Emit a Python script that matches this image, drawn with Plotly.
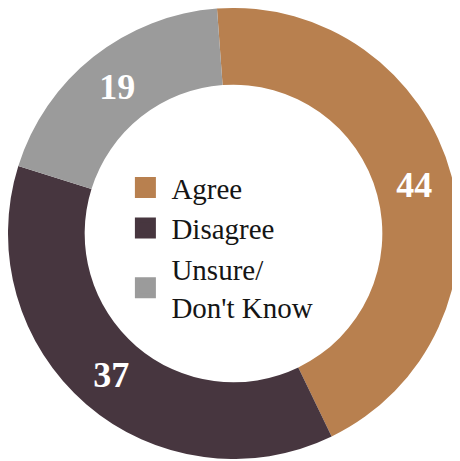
import plotly.graph_objects as go

categories = ["Agree", "Disagree", "Unsure/<br>Don't Know"]
values = [44, 37, 19]
colors = ["#B8804F", "#47363F", "#9B9B9B"]
label_text = ["44", "37", "19"]

fig = go.Figure(go.Pie(
    labels=categories,
    values=values,
    text=label_text,
    textinfo="text",
    texttemplate="%{text}",
    hole=0.66,
    sort=False,
    direction="clockwise",
    rotation=-4.2,
    marker=dict(colors=colors, line=dict(width=0)),
    textposition="inside",
    insidetextorientation="horizontal",
    textfont=dict(family="Liberation Serif", size=36, color="white", weight="bold"),
    hoverinfo="label+value",
    showlegend=False,
))

# legend entries (square swatches) drawn by the library's legend
for name, col in zip(categories, colors):
    fig.add_trace(go.Scatter(
        x=[None], y=[None], mode="markers", name=name,
        marker=dict(symbol="square", size=16, color=col, line=dict(color=col, width=5)),
        showlegend=True, hoverinfo="skip",
    ))

fig.update_layout(
    width=451, height=451,
    margin=dict(l=0, r=0, t=0, b=0),
    paper_bgcolor="white",
    plot_bgcolor="white",
    xaxis=dict(visible=False),
    yaxis=dict(visible=False),
    showlegend=True,
    legend=dict(
        x=0.247, y=0.47, xanchor="left", yanchor="middle",
        bgcolor="rgba(0,0,0,0)",
        font=dict(family="Liberation Serif", size=29, color="#151515"),
        itemwidth=42,
        tracegroupgap=0,
    ),
    uniformtext=dict(minsize=34, mode="show"),
)

fig.write_html("out.html")
